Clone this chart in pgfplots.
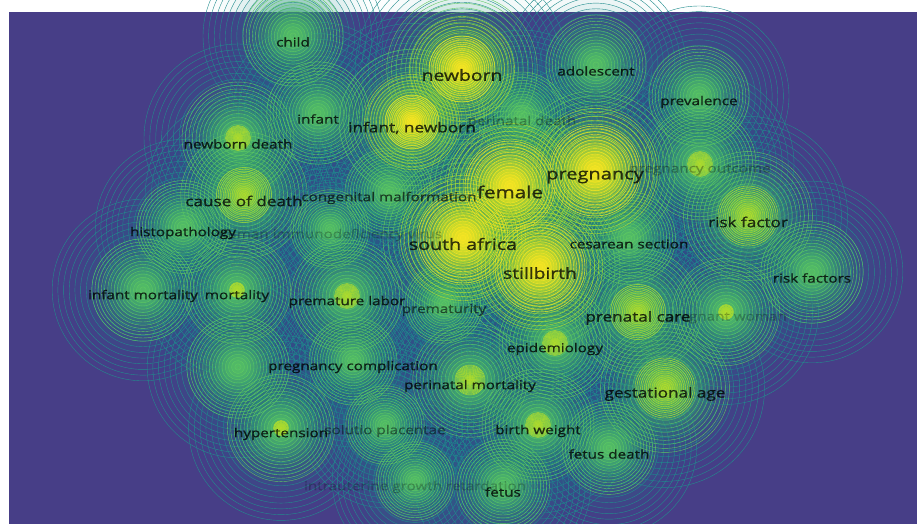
\documentclass[border=0pt]{standalone}
\usepackage{pgfplots}
\pgfplotsset{compat=1.18}
\usepackage{pgfplotstable}
\usepackage{fontspec}
\setmainfont{Open Sans}[FakeStretch=1.25, FakeBold=1.0]

\definecolor{vbg}{RGB}{71,62,135}
\definecolor{vteal}{RGB}{34,140,141}
\definecolor{vgreen}{RGB}{94,201,98}
\definecolor{vyg}{RGB}{180,222,44}
\definecolor{vyellow}{RGB}{250,230,35}

% x, y: label centre in picture pixels (y downwards); w: density weight
\pgfplotstableread{
x   y   w   fs   op    label
293 42  2.5 12.2 0.75 child
462 75  4.6 15.5 0.75 newborn
596 71  2.5 12.2 0.75 adolescent
699 102 2.5 12.2 0.75 prevalence
318 119 2.6 12.2 0.75 infant
412 128 4.4 13.8 0.75 {infant, newborn}
522 122 2.0 12.2 0.28 {perinatal death}
238 144 3.0 12.2 0.75 {newborn death}
595 177 5.0 16.0 0.75 pregnancy
700 170 3.0 12.2 0.25 {pregnancy outcome}
510 192 5.0 16.5 0.75 female
244 201 3.6 13.7 0.75 {cause of death}
389 198 2.0 12.2 0.60 {congenital malformation}
748 222 3.7 13.7 0.75 {risk factor}
183 233 2.2 12.2 0.75 histopathology
330 235 1.6 12.2 0.20 {human immunodeficiency virus}
463 244 5.0 15.7 0.75 {south africa}
629 244 2.2 12.2 0.75 {cesarean section}
540 273 5.0 15.4 0.75 stillbirth
812 278 2.6 12.2 0.75 {risk factors}
143 296 2.6 12.2 0.75 {infant mortality}
237 296 2.8 12.2 0.75 mortality
347 302 3.0 12.2 0.75 {premature labor}
444 310 1.6 12.2 0.50 prematurity
638 318 3.6 13.7 0.75 {prenatal care}
726 318 2.8 12.2 0.20 {pregnant woman}
555 349 3.0 12.2 0.75 epidemiology
353 367 2.0 12.2 0.75 {pregnancy complication}
470 386 3.1 12.2 0.75 {perinatal mortality}
665 394 3.7 13.7 0.75 {gestational age}
281 434 2.8 12.2 0.75 hypertension
385 431 1.6 12.2 0.40 {solutio placentae}
538 431 3.0 12.2 0.75 {birth weight}
609 454 2.2 12.2 0.75 {fetus death}
415 487 1.6 12.2 0.20 {intrauterine growth retardation}
503 492 2.2 12.2 0.75 fetus
238 373 2.6 12.2 0.00 {}
}\kw

\def\nrings{16}
\pgfplotsset{
  blob/.style n args={3}{% colour, radius expr, peak opacity expr
    scatter, only marks, mark=*, mark size=0pt,
    visualization depends on={\thisrow{w} \as \wt},
    scatter/@pre marker code/.append code={%
      \pgfmathsetmacro\rr{max(1,#2)}%
      \pgfmathsetmacro\pk{#3}%
      \ifdim\pk pt>0.01pt
        \foreach \k in {\nrings,...,1}{%
          \pgfmathsetmacro\ta{\pk*exp(-4.5*((\k-0.5)/\nrings)^2)}%
          \pgfmathsetmacro\tb{\k<\nrings ? \pk*exp(-4.5*((\k+0.5)/\nrings)^2) : 0}%
          \pgfmathsetmacro\aa{1-(1-\ta)/(1-\tb)}%
          \fill[#1, fill opacity=\aa] (0pt,0pt) circle[radius=\k/\nrings*\rr pt];
        }%
      \fi
    },
  },
}

\begin{document}
\begin{tikzpicture}
\begin{axis}[
  width=908pt, height=512pt, scale only axis,
  xmin=9, xmax=917, ymin=12, ymax=524, y dir=reverse,
  axis line style={draw=none}, ticks=none,
  axis background/.style={fill=vbg},
  clip=true,
]
\addplot[blob={vteal}{70+8*\wt}{0.85}] table[x=x, y expr=\thisrow{y}-6] {\kw};
\addplot[blob={vgreen}{20+12*\wt}{0.85}] table[x=x, y expr=\thisrow{y}-6] {\kw};
\addplot[blob={vyg}{25*(\wt-2.5)}{(\wt>2.7)*0.8}] table[x=x, y expr=\thisrow{y}-6] {\kw};
\addplot[blob={vyellow}{30*(\wt-3.5)}{(\wt>3.7)*0.9}] table[x=x, y expr=\thisrow{y}-6] {\kw};

\addplot[draw=none, mark=none, nodes near coords, point meta=explicit symbolic,
  visualization depends on={\thisrow{fs} \as \fs},
  visualization depends on={\thisrow{op} \as \op},
  every node near coord/.append style={anchor=center, inner sep=0pt,
    font=\fontsize{\fs}{\fs}\selectfont, text=black, text opacity=\op},
] table[x=x, y=y, meta=label] {\kw};
\end{axis}
\pgfresetboundingbox
\path[use as bounding box] (-9pt,0pt) rectangle (908pt,524pt);
\end{tikzpicture}
\end{document}
